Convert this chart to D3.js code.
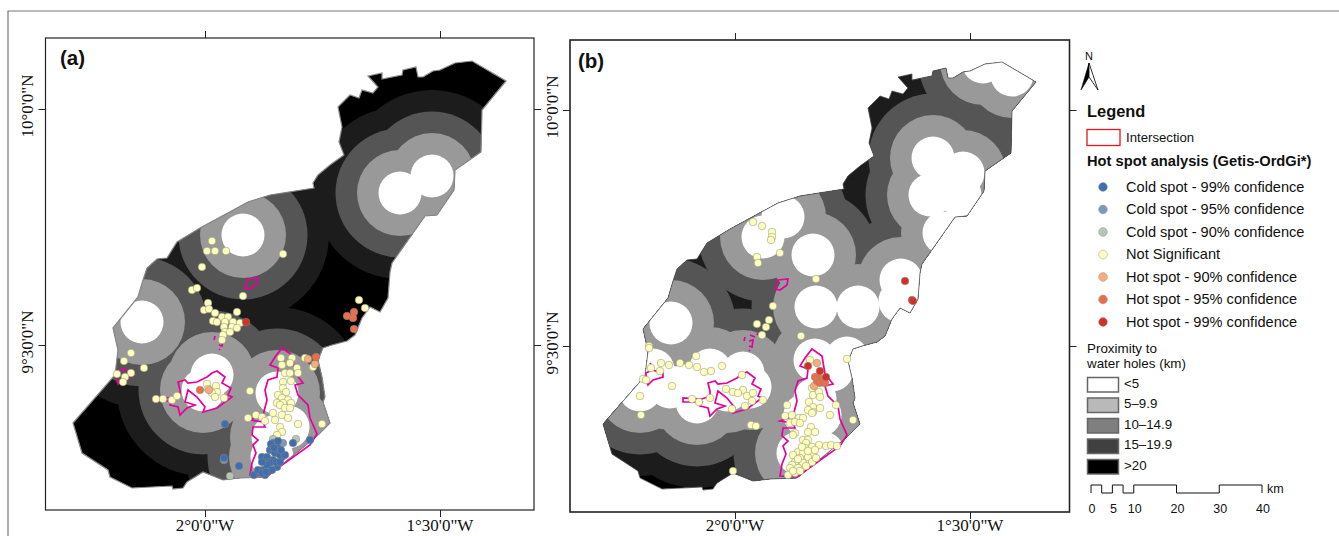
<!DOCTYPE html>
<html><head><meta charset="utf-8">
<style>html,body{margin:0;padding:0;background:#fff}svg{display:block}</style>
<script src="https://cdn.jsdelivr.net/npm/d3@7/dist/d3.min.js"></script>
</head><body>
<script>
// All map data are in a shared map-grid unit (1 unit = 1/470 degree)
const gridLon = [205, 440];   // grid eastings of 2°0'W and 1°30'W
const gridLat = [109, 345];   // grid northings of 10°0'N and 9°30'N
const boundary = [[506,81],[482,110],[481,152],[455,170],[454,190],[437,215],[425,216],[392,263],[390,272],[388,298],[380,312],[370,307],[362,318],[355,335],[347,341],[332,345],[323,348],[318,360],[322,377],[325,397],[323,402],[330,423],[318,435],[267,477],[240,478],[223,480],[203,472],[187,482],[183,488],[173,489],[172,486],[132,488],[110,477],[108,470],[82,453],[73,423],[115,375],[118,350],[113,328],[138,297],[143,280],[147,268],[157,259],[167,258],[177,242],[200,228],[248,202],[270,195],[314,188],[313,183],[318,175],[330,165],[344,155],[339,142],[342,127],[338,107],[350,95],[359,98],[362,90],[373,93],[378,87],[368,76],[382,73],[382,79],[402,75],[403,70],[416,67],[418,77],[423,77],[433,71],[440,70],[455,63],[472,61]];
const intersectionMain = [[282,348],[292,355],[295,373],[303,383],[295,385],[298,395],[308,405],[310,418],[317,434],[310,445],[267,476],[250,475],[252,463],[256,453],[253,445],[258,440],[252,435],[253,427],[265,427],[263,422],[250,420],[263,415],[267,400],[265,390],[268,380],[277,377],[278,368],[270,365],[275,357]];
const intersectionCentral = [[217,371],[225,377],[222,383],[231,388],[228,395],[232,397],[217,408],[203,412],[205,407],[197,397],[188,390],[185,402],[195,405],[187,408],[180,415],[178,407],[170,405],[172,401],[153,401],[153,397],[172,398],[180,395],[180,390],[178,382],[185,380],[188,383],[197,382],[207,377],[212,373]];
const intersectionWest = [[116,372],[122,369],[133,372],[133,376],[123,379],[118,384],[116,378]];
const intersectionNorth = [[245,288],[248,279],[258,278],[257,284],[250,289]];
const intersectionBits = [[[215,336],[214,340]],[[220,334],[225,336]],[[219,340],[223,339],[222,346],[219,345]],[[219,349],[220,350]],[[228,332],[227,334]],[[120,362],[121,363]]];

const waterHolesA = [[243,235],[400,193],[432,176],[142,322],[212,375],[203,390],[277,393],[288,427],[273,437],[272,457]];
const waterHolesB = [[482,74],[453,61],[403,157],[433,172],[400,194],[430,194],[414,232],[371,279],[286,306],[328,306],[370,300],[285,359],[302,369],[317,357],[285,398],[275,414],[290,414],[268,452],[293,452],[213,372],[180,369],[197,389],[195,385],[175,385],[155,385],[167,401],[140,386],[125,380],[123,369],[110,389],[220,386],[141,322],[233,236],[253,216],[283,254]];

const ringKm = [20, 15, 10, 5];
const ringColors = ["#1c1c1c", "#555555", "#999999", "#ffffff"];

const cold99A = [[225,424],[224,458],[239,466],[254,475],[258,470],[263,470],[265,475],[262,457],[267,457],[270,450],[273,443],[272,448],[277,447],[268,462],[273,460],[282,457],[277,467],[270,463],[262,473],[293,443],[310,440],[275,453],[280,455],[267,465],[272,470],[285,455],[278,441],[271,444],[276,462],[262,462],[280,462],[266,472],[274,448],[281,450]];
const cold95A = [[283,443],[224,460]];
const cold90A = [[230,476],[273,439],[296,439]];
const notSigA = [[212,241],[207,251],[215,251],[226,251],[202,267],[283,254],[192,290],[197,288],[243,296],[208,303],[204,310],[209,309],[237,312],[215,313],[222,317],[228,317],[213,321],[217,322],[225,322],[233,322],[240,323],[224,327],[232,327],[237,328],[225,332],[230,332],[223,335],[222,340],[131,353],[124,361],[144,368],[131,373],[125,377],[117,374],[123,382],[156,399],[163,399],[172,400],[177,396],[207,384],[216,386],[208,389],[217,392],[212,393],[215,397],[224,398],[250,391],[305,358],[313,367],[281,358],[282,365],[292,358],[290,363],[297,368],[285,373],[290,373],[298,373],[283,382],[291,381],[283,388],[286,392],[278,395],[282,398],[288,400],[277,403],[283,403],[291,403],[280,405],[285,408],[290,408],[273,413],[282,415],[288,418],[275,420],[280,427],[282,432],[277,435],[298,424],[322,424],[248,418],[256,415],[262,417],[265,421],[359,300],[365,308]];
const hot90A = [[209,390],[308,359],[315,364]];
const hot95A = [[200,390],[316,357],[354,312],[347,316],[353,318],[354,329]];
const hot99A = [[246,322]];

const notSigB = [[223,221],[232,225],[242,231],[242,236],[241,239],[250,252],[227,256],[228,262],[286,278],[243,305],[239,319],[236,326],[227,323],[232,334],[271,335],[119,345],[119,347],[317,358],[131,362],[139,364],[150,362],[159,364],[167,366],[166,355],[174,371],[181,370],[192,365],[121,367],[130,370],[113,378],[116,379],[142,385],[110,395],[111,414],[212,374],[196,388],[203,391],[213,389],[208,392],[217,395],[223,392],[222,400],[215,405],[202,408],[180,397],[169,401],[162,398],[233,399],[221,424],[226,425],[203,470],[280,359],[283,394],[289,391],[282,387],[290,396],[279,401],[283,406],[290,407],[283,411],[278,409],[282,412],[300,414],[257,404],[306,404],[323,419],[255,415],[262,414],[269,417],[273,417],[260,422],[265,421],[270,422],[265,432],[263,434],[281,426],[278,431],[285,431],[273,439],[278,439],[276,442],[289,444],[296,445],[301,444],[307,445],[275,447],[282,446],[268,451],[263,454],[273,452],[283,454],[278,456],[270,457],[265,461],[273,462],[282,461],[262,464],[260,467],[268,467],[265,472],[258,474],[272,446],[278,450],[285,449],[268,458],[276,465],[270,470],[263,470],[286,457]];
const hot90B = [[287,362],[284,385]];
const hot95B = [[289,377],[287,380],[290,382],[295,382],[285,376]];
const hot99B = [[278,365],[290,370],[296,376],[375,280],[382,299],[383,300]];

const lonTicks = [-2, -1.5];
const latTicks = [10, 9.5];
const lonLabels = ["2°0'0\"W", "1°30'0\"W"];
const latLabels = ["10°0'0\"N", "9°30'0\"N"];

const spotNames = ["Cold spot - 99% confidence","Cold spot - 95% confidence","Cold spot - 90% confidence","Not Significant","Hot spot - 90% confidence","Hot spot - 95% confidence","Hot spot - 99% confidence"];
const spotColors = ["#3f6db1","#7f98b9","#b7c5b6","#ffffbf","#f5ad7e","#e96e4e","#d3302a"];
const proximityNames = ["<5","5–9.9","10–14.9","15–19.9",">20"];
const proximityColors = ["#ffffff","#b9b9b9","#7f7f7f","#404040","#000000"];
const scaleBarKm = [0,2.5,5,7.5,10,20,30,40];
const scaleBarLabels = [0,5,10,20,30,40];

const sans = "'Liberation Sans', Arial, sans-serif";
const serif = "'Liberation Serif', 'Times New Roman', serif";
const svg = d3.select("body").append("svg").attr("width",1339).attr("height",536);
svg.append("path").attr("d","M1339,11H8V536").attr("fill","none").attr("stroke","#777").attr("stroke-width",1.2);

function panel(cfg){
  const {id,frame,lonRange,latRange,holes,spots,label,labelPos,latLabelX,edge,edgeW}=cfg;
  const x=d3.scaleLinear().domain(gridLon).range(lonRange);
  const y=d3.scaleLinear().domain(gridLat).range(latRange);
  const lon=d3.scaleLinear().domain(lonTicks).range(lonRange);
  const lat=d3.scaleLinear().domain(latTicks).range(latRange);
  const km=d3.scaleLinear().domain([0,5]).range([0,21.5]);
  const line=d3.line().x(d=>x(d[0])).y(d=>y(d[1]));
  const closed=d3.line().x(d=>x(d[0])).y(d=>y(d[1])).curve(d3.curveLinearClosed);
  const g=svg.append("g");
  g.append("defs").append("clipPath").attr("id",id).append("path").attr("d",closed(boundary));
  // axes
  const axisStyle=s=>{s.select(".domain").remove();s.selectAll("line").attr("stroke","#222").attr("stroke-width",1);s.selectAll("text").remove();};
  g.append("g").attr("transform",`translate(0,${frame.top})`).call(d3.axisTop(lon).tickValues(lonTicks).tickSize(7)).call(axisStyle);
  g.append("g").attr("transform",`translate(0,${frame.bottom})`).call(d3.axisBottom(lon).tickValues(lonTicks).tickSize(7)).call(axisStyle);
  g.append("g").attr("transform",`translate(${frame.left},0)`).call(d3.axisLeft(lat).tickValues(latTicks).tickSize(7)).call(axisStyle);
  g.append("g").attr("transform",`translate(${frame.right},0)`).call(d3.axisRight(lat).tickValues(latTicks).tickSize(7)).call(axisStyle);
  g.append("rect").attr("x",frame.left).attr("y",frame.top).attr("width",frame.right-frame.left).attr("height",frame.bottom-frame.top)
    .attr("fill","#fff").attr("stroke","#222").attr("stroke-width",cfg.frameW);
  // base map and proximity rings
  const map=g.append("g").attr("clip-path",`url(#${id})`);
  map.append("path").attr("d",closed(boundary)).attr("fill","#000");
  ringKm.forEach((r,i)=>{
    map.append("g").selectAll("circle").data(holes).join("circle")
      .attr("cx",d=>x(d[0])).attr("cy",d=>y(d[1])).attr("r",km(r)).attr("fill",ringColors[i]);
  });
  g.append("path").attr("d",closed(boundary)).attr("fill","none").attr("stroke",edge).attr("stroke-width",edgeW);
  // intersection outlines
  const pink="#e6009c";
  [intersectionMain,intersectionCentral,intersectionWest,intersectionNorth].forEach(p=>{
    g.append("path").attr("d",closed(p)).attr("fill","none").attr("stroke",pink).attr("stroke-width",1.7);
  });
  intersectionBits.forEach(p=>g.append("path").attr("d",line(p)).attr("fill","none").attr("stroke",pink).attr("stroke-width",1.7));
  // points
  spots.forEach(s=>{
    g.append("g").selectAll("circle").data(s.values).join("circle")
      .attr("cx",d=>x(d[0])).attr("cy",d=>y(d[1])).attr("r",3.8)
      .attr("fill",s.color).attr("stroke","#8a8a70").attr("stroke-width",0.5);
  });
  // labels
  g.selectAll("text.lon").data(lonTicks).join("text").attr("class","lon")
    .attr("x",d=>lon(d)).attr("y",531).attr("text-anchor","middle").attr("font-family",serif).attr("font-size",17).attr("fill","#111")
    .text((d,i)=>lonLabels[i]);
  g.selectAll("text.lat").data(latTicks).join("text").attr("class","lat")
    .attr("transform",d=>`translate(${latLabelX},${lat(d)-3}) rotate(-90)`).attr("text-anchor","middle").attr("font-family",serif).attr("font-size",17).attr("fill","#111")
    .text((d,i)=>latLabels[i]);
  g.append("text").attr("x",labelPos[0]).attr("y",labelPos[1]).attr("font-family",sans).attr("font-weight",700).attr("font-size",20.5).attr("fill","#111").text(label);
}

panel({id:"clipA",frame:{left:45.5,right:534,top:38,bottom:510},lonRange:[205,440],latRange:[109,345],holes:waterHolesA,frameW:1.2,
  spots:[{values:notSigA,color:spotColors[3]},{values:cold90A,color:spotColors[2]},{values:cold95A,color:spotColors[1]},{values:cold99A,color:spotColors[0]},{values:hot90A,color:spotColors[4]},{values:hot95A,color:spotColors[5]},{values:hot99A,color:spotColors[6]}],
  label:"(a)",labelPos:[60,65],latLabelX:33,edge:"#888",edgeW:1.2});
panel({id:"clipB",frame:{left:570,right:1069.5,top:40,bottom:512},lonRange:[735,970],latRange:[110,346],holes:waterHolesB,frameW:1.6,
  spots:[{values:notSigB,color:spotColors[3]},{values:hot90B,color:spotColors[4]},{values:hot95B,color:spotColors[5]},{values:hot99B,color:spotColors[6]}],
  label:"(b)",labelPos:[578,68],latLabelX:558,edge:"#555",edgeW:0.8});

// legend
const leg=svg.append("g").attr("font-family",sans).attr("fill","#111");
leg.append("text").attr("x",1089).attr("y",60).attr("text-anchor","middle").attr("font-size",11).text("N");
leg.append("path").attr("d","M1089,63L1081,90L1089,77Z").attr("fill","#000").attr("stroke","#000").attr("stroke-width",0.6);
leg.append("path").attr("d","M1089,63L1098,90L1089,77Z").attr("fill","#fff").attr("stroke","#000").attr("stroke-width",0.8);
leg.append("text").attr("x",1087).attr("y",117).attr("font-size",16.4).attr("font-weight",700).text("Legend");
leg.append("rect").attr("x",1087).attr("y",129.5).attr("width",33).attr("height",16).attr("fill","#fff").attr("stroke","#e8141c").attr("stroke-width",1.3);
leg.append("text").attr("x",1126).attr("y",142).attr("font-size",13.2).text("Intersection");
leg.append("text").attr("x",1087).attr("y",166).attr("font-size",14.7).attr("font-weight",700).text("Hot spot analysis (Getis-OrdGi*)");
const spotY=d3.scalePoint().domain(spotNames).range([187,322]);
leg.selectAll("circle.s").data(spotNames).join("circle").attr("class","s").attr("cx",1103).attr("cy",d=>spotY(d)).attr("r",4.4)
  .attr("fill",(d,i)=>spotColors[i]).attr("stroke","#9a9a9a").attr("stroke-width",0.5);
leg.selectAll("text.s").data(spotNames).join("text").attr("class","s").attr("x",1126).attr("y",d=>spotY(d)+4.7).attr("font-size",14.6).text(d=>d);
leg.append("text").attr("x",1087).attr("y",353).attr("font-size",13.4).text("Proximity to");
leg.append("text").attr("x",1087).attr("y",368).attr("font-size",13.4).text("water holes (km)");
const proxY=d3.scalePoint().domain(proximityNames).range([377.5,459.5]);
leg.selectAll("rect.p").data(proximityNames).join("rect").attr("class","p").attr("x",1087.5).attr("y",d=>proxY(d)).attr("width",31).attr("height",14.5)
  .attr("fill",(d,i)=>proximityColors[i]).attr("stroke","#666").attr("stroke-width",1.5);
leg.selectAll("text.p").data(proximityNames).join("text").attr("class","p").attr("x",1124).attr("y",d=>proxY(d)+10).attr("font-size",13.3).text(d=>d);
const sb=d3.scaleLinear().domain([0,40]).range([1091,1262]);
let pd=`M${sb(0)},493`;
scaleBarKm.slice(0,-1).forEach((k,i)=>{const up=i%2===0?485:493;pd+=`V${up}H${sb(scaleBarKm[i+1])}`;});
pd+="V493";
leg.append("path").attr("d",pd).attr("fill","none").attr("stroke","#111").attr("stroke-width",1);
leg.append("text").attr("x",1267).attr("y",493).attr("font-size",12.5).text("km");
leg.selectAll("text.sb").data(scaleBarLabels).join("text").attr("class","sb").attr("x",d=>sb(d)+1).attr("y",513).attr("text-anchor","middle").attr("font-size",12.5).text(d=>d);
</script>
</body></html>
